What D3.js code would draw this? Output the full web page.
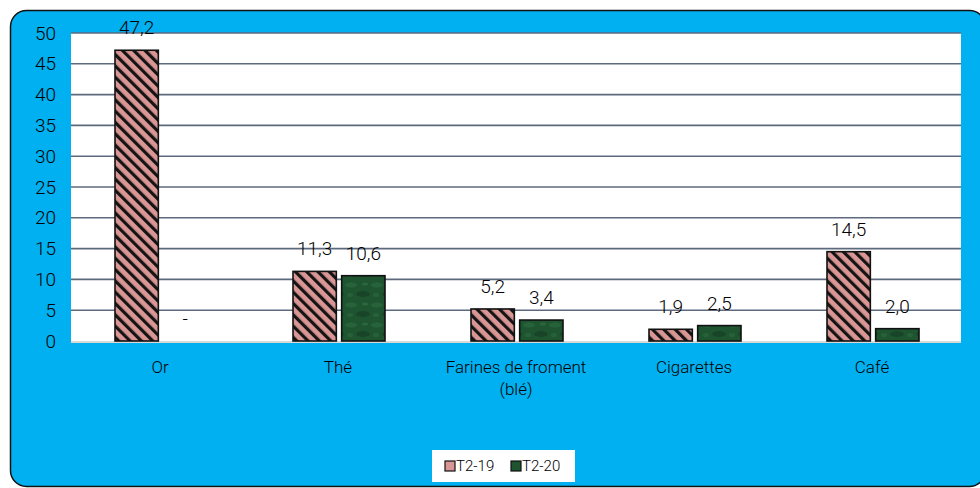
<!DOCTYPE html>
<html>
<head>
<meta charset="utf-8">
<script src="https://cdn.jsdelivr.net/npm/d3@7"></script>
<style>
body { margin: 0; background: #fff; }
text { font-family: Roboto, sans-serif; font-weight: 300; fill: #000; }
</style>
</head>
<body>
<svg class="chart_svg" width="980" height="488"></svg>
<script>
// data
var categories = ["Or", "Thé", "Farines de froment\n(blé)", "Cigarettes", "Café"];
var series = ["T2-19", "T2-20"];
var t2_19 = [47.2, 11.3, 5.2, 1.9, 14.5];
var t2_20 = [0, 10.6, 3.4, 2.5, 2.0];
var yTicks = [0, 5, 10, 15, 20, 25, 30, 35, 40, 45, 50];

var svg = d3.select(".chart_svg");
var plotL = 71, plotR = 961, plotT = 33, plotB = 342;

var defs = svg.append("defs");
var pat = defs.append("pattern")
    .attr("id", "hatch")
    .attr("patternUnits", "userSpaceOnUse")
    .attr("width", 8).attr("height", 8)
    .attr("patternTransform", "rotate(-45)");
pat.append("rect").attr("width", 8).attr("height", 8).attr("fill", "#d99694");
pat.append("rect").attr("x", 0).attr("width", 3.2).attr("height", 8).attr("fill", "#141414");

var g2 = defs.append("pattern")
    .attr("id", "marble")
    .attr("patternUnits", "userSpaceOnUse")
    .attr("width", 26).attr("height", 20);
g2.append("rect").attr("width", 26).attr("height", 20).attr("fill", "#1e5430");
g2.append("ellipse").attr("cx", 6).attr("cy", 5).attr("rx", 6).attr("ry", 2.5).attr("fill", "#2c6c40").attr("opacity", 0.6);
g2.append("ellipse").attr("cx", 18).attr("cy", 14).attr("rx", 7).attr("ry", 3).attr("fill", "#153f24").attr("opacity", 0.7);
g2.append("ellipse").attr("cx", 20).attr("cy", 4).attr("rx", 3).attr("ry", 1.5).attr("fill", "#3b7c50").attr("opacity", 0.45);
g2.append("ellipse").attr("cx", 5).attr("cy", 15).attr("rx", 3).attr("ry", 2).attr("fill", "#2f6e44").attr("opacity", 0.5);

// background frame
svg.append("rect")
    .attr("x", 10.5).attr("y", 10.5)
    .attr("width", 975).attr("height", 476)
    .attr("rx", 16)
    .attr("fill", "#00b0f0")
    .attr("stroke", "#111").attr("stroke-width", 1.5);

svg.append("rect")
    .attr("x", plotL).attr("y", plotT)
    .attr("width", plotR - plotL).attr("height", plotB - plotT)
    .attr("fill", "#fff");

var x = d3.scaleBand().domain(categories).range([plotL, plotR]);
var xs = d3.scaleBand().domain(series).range([0, 92]).paddingInner(0.11);
var y = d3.scaleLinear().domain([0, 50]).range([plotB - 1, plotT]);

// gridlines
svg.selectAll(".grid").data(yTicks.filter(function (d) { return d > 0; }))
    .enter().append("line")
    .attr("x1", plotL).attr("x2", plotR)
    .attr("y1", function (d) { return y(d); })
    .attr("y2", function (d) { return y(d); })
    .attr("stroke", "#5d6a7e").attr("stroke-width", 1.6);

svg.append("line")
    .attr("x1", plotL).attr("x2", plotR)
    .attr("y1", plotB).attr("y2", plotB)
    .attr("stroke", "#d9d9d9").attr("stroke-width", 2);

// y axis labels
var yAxis = d3.axisLeft(y).tickValues(yTicks).tickSize(0).tickPadding(15);
var ya = svg.append("g").attr("transform", "translate(" + plotL + ",0)").call(yAxis);
ya.select(".domain").remove();
ya.attr("font-family", null).attr("font-size", null);
ya.selectAll("text").style("font-size", "19px").attr("fill", "#000");

// bars
var rows = categories.map(function (c, i) {
    return { cat: c, vals: [t2_19[i], t2_20[i]] };
});
var groups = svg.selectAll(".grp").data(rows).enter().append("g")
    .attr("transform", function (d) { return "translate(" + (x(d.cat) + x.bandwidth() / 2 - 45) + ",0)"; });

groups.selectAll("rect").data(function (d) {
    return d.vals.map(function (v, j) { return { s: series[j], v: v }; });
}).enter().append("rect")
    .filter(function (d) { return d.v > 0; })
    .attr("x", function (d) { return xs(d.s); })
    .attr("width", xs.bandwidth())
    .attr("y", function (d) { return y(d.v); })
    .attr("height", function (d) { return y(0) - y(d.v); })
    .attr("fill", function (d) { return d.s === "T2-19" ? "url(#hatch)" : "url(#marble)"; })
    .attr("stroke", "#111").attr("stroke-width", 1.6);

groups.selectAll(".val").data(function (d) {
    return d.vals.map(function (v, j) { return { s: series[j], v: v }; });
}).enter().append("text")
    .attr("x", function (d) { return xs(d.s) + xs.bandwidth() / 2; })
    .attr("y", function (d) { return d.v > 0 ? y(d.v) - 16 : y(0) - 16; })
    .attr("text-anchor", "middle")
    .style("font-size", "19px")
    .text(function (d) { return d.v > 0 ? d3.format(".1f")(d.v).replace(".", ",") : "-"; });

// category labels
var cl = svg.selectAll(".cat").data(categories).enter().append("text")
    .attr("text-anchor", "middle")
    .attr("transform", function (d) { return "translate(" + (x(d) + x.bandwidth() / 2) + ",373)"; })
    .style("font-size", "17px");
cl.selectAll("tspan").data(function (d) { return d.split("\n"); })
    .enter().append("tspan")
    .attr("x", 0)
    .attr("dy", function (d, i) { return i ? "1.3em" : 0; })
    .text(function (d) { return d; });

// legend
var lg = svg.append("g").attr("transform", "translate(432,450)");
lg.append("rect").attr("width", 143).attr("height", 32).attr("fill", "#fff");
series.forEach(function (s, i) {
    var it = lg.append("g").attr("transform", "translate(" + (13 + i * 66) + ",16)");
    it.append("rect").attr("x", 0).attr("y", -5).attr("width", 10).attr("height", 10)
        .attr("fill", i ? "#1e5430" : "#d99694").attr("stroke", "#111").attr("stroke-width", 1.2);
    it.append("text").attr("x", 11).attr("dy", "0.35em").style("font-size", "15px").text(s);
});
</script>
</body>
</html>
